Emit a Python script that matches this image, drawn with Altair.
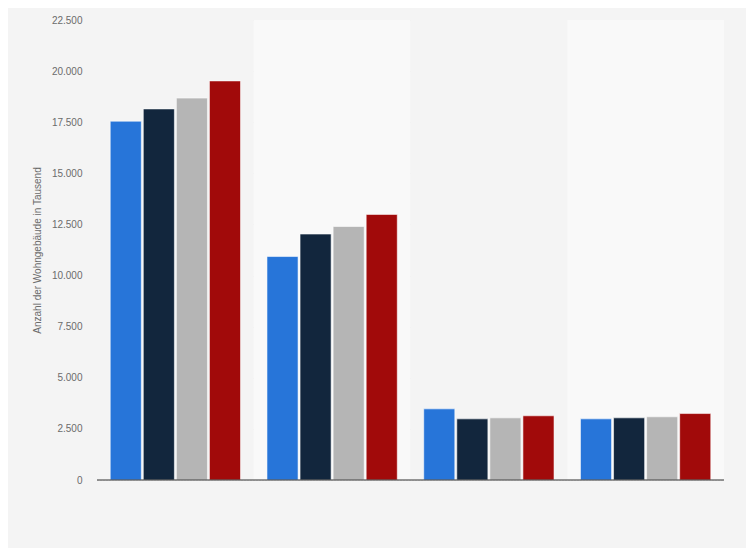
import altair as alt
import pandas as pd

groups = ["Gruppe 1", "Gruppe 2", "Gruppe 3", "Gruppe 4"]
series = ["Serie 1", "Serie 2", "Serie 3", "Serie 4"]
values = [
    [17550, 18150, 18680, 19520],
    [10930, 12030, 12400, 12990],
    [3480, 2990, 3040, 3140],
    [2990, 3040, 3090, 3250],
]
band_colors = ["#f4f4f4", "#f9f9f9", "#f4f4f4", "#f9f9f9"]
series_colors = ["#2775d9", "#12263d", "#b5b5b5", "#a10a0a"]
y_ticks = [0, 2500, 5000, 7500, 10000, 12500, 15000, 17500, 20000, 22500]

rows = []
for g, vals in zip(groups, values):
    for s, v in zip(series, vals):
        rows.append({"group": g, "series": s, "value": v})
df = pd.DataFrame(rows)
bands = pd.DataFrame({"group": groups, "bg": band_colors, "top": [22500] * 4, "bottom": [0] * 4})

W, H = 627, 460
xscale = alt.Scale(domain=groups, paddingInner=0, paddingOuter=0)
yscale = alt.Scale(domain=[0, 22500], nice=False)

band_layer = alt.Chart(bands).mark_rect().encode(
    x=alt.X("group:N", scale=xscale, axis=None, sort=groups),
    y=alt.Y("top:Q", scale=yscale),
    y2="bottom:Q",
    color=alt.Color("bg:N", scale=None),
)

bars = alt.Chart(df).mark_bar(stroke="#ffffff", strokeWidth=0.8, strokeOpacity=0.7).encode(
    x=alt.X("group:N", scale=xscale, axis=None, sort=groups),
    xOffset=alt.XOffset("series:N", sort=series,
                        scale=alt.Scale(paddingInner=0.06, paddingOuter=0.4)),
    y=alt.Y("value:Q", scale=yscale,
            axis=alt.Axis(values=y_ticks, title="Anzahl der Wohngebäude in Tausend",
                          labelExpr="replace(format(datum.value, ','), ',', '.')",
                          grid=True, gridColor="#d9d9d9", gridDash=[1, 2], gridWidth=1,
                          domain=False, ticks=False, labelPadding=15,
                          labelColor="#6b6b6b", labelFont="Liberation Sans", labelFontSize=10,
                          titleColor="#6b6b6b", titleFont="Liberation Sans", titleFontSize=10,
                          titleFontWeight="normal", titlePadding=9)),
    color=alt.Color("series:N", sort=series,
                    scale=alt.Scale(domain=series, range=series_colors), legend=None),
)

base_rule = alt.Chart(pd.DataFrame({"y": [0]})).mark_rule(color="#333333", strokeWidth=1.2).encode(
    y=alt.Y("y:Q", scale=yscale)
)

chart = alt.layer(band_layer, bars, base_rule).properties(
    width=W, height=H,
    background="#f4f4f4",
    padding={"left": 89, "top": 12, "right": 22, "bottom": 68},
    autosize=alt.AutoSizeParams(type="none"),
).configure_view(stroke=None, fill="#f4f4f4")

chart.save("out.html", embed_options={"renderer": "svg", "actions": False})
